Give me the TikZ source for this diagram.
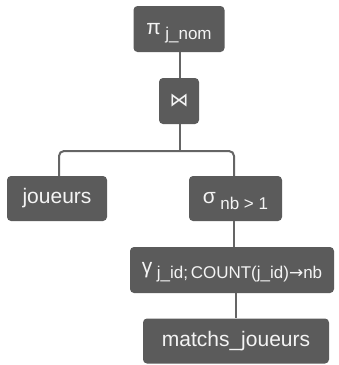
\documentclass[tikz,border=0pt]{standalone}
\usepackage{fontspec}
\setmainfont{Liberation Sans}
\newfontfamily\symfont{DejaVu Sans}
\definecolor{boxgray}{HTML}{5B5B5B}
\definecolor{linegray}{HTML}{656565}
\definecolor{boxtext}{HTML}{F4F4F4}
\newcommand{\bigtxt}{\fontsize{21}{24}\selectfont}
\newcommand{\subtxt}[1]{\hspace{4.5pt}\smash{\raisebox{-5.5pt}{\fontsize{17}{19}\selectfont #1}}}
\begin{document}
\begin{tikzpicture}[x=1pt,y=-1pt,
  opnode/.style={fill=boxgray, rounded corners=4pt, text=boxtext, inner sep=0pt,
    font=\bigtxt, anchor=center},
  link/.style={draw=linegray, line width=2pt}]
\useasboundingbox (0,0) rectangle (339,365);
% operator tree nodes
\node[opnode, minimum width=91pt, minimum height=46pt] (proj) at (179,29)
  {π\subtxt{j\_nom}};
\node[opnode, minimum width=40pt, minimum height=46pt] (join) at (179,101)
  {\symfont\fontsize{19}{21}\selectfont ⋈};
\node[opnode, minimum width=100pt, minimum height=45pt] (jou) at (57,198.5)
  {joueurs};
\node[opnode, minimum width=93pt, minimum height=45pt] (sel) at (235.5,198.5)
  {σ\subtxt{nb > 1}};
\node[opnode, minimum width=204pt, minimum height=46pt] (grp) at (232,270)
  {γ\subtxt{j\_id;\,COUNT(j\_id){\symfont\fontsize{17}{19}\selectfont →}nb}};
\node[opnode, minimum width=186pt, minimum height=45pt] (mj) at (236,341)
  {matchs\_joueurs};
% connectors
\coordinate (fork) at (180,151);
\draw[link] (proj.south -| fork) -- (join.north -| fork);
\draw[link] (join.south -| fork) -- (fork);
\draw[link, rounded corners=5pt] (jou.north -| 59,0) |- (fork) -| (sel.north -| 234,0);
\draw[link] (sel.south -| 234,0) -- (grp.north -| 234,0);
\draw[link] (grp.south -| 236,0) -- (mj.north -| 236,0);
\end{tikzpicture}
\end{document}
